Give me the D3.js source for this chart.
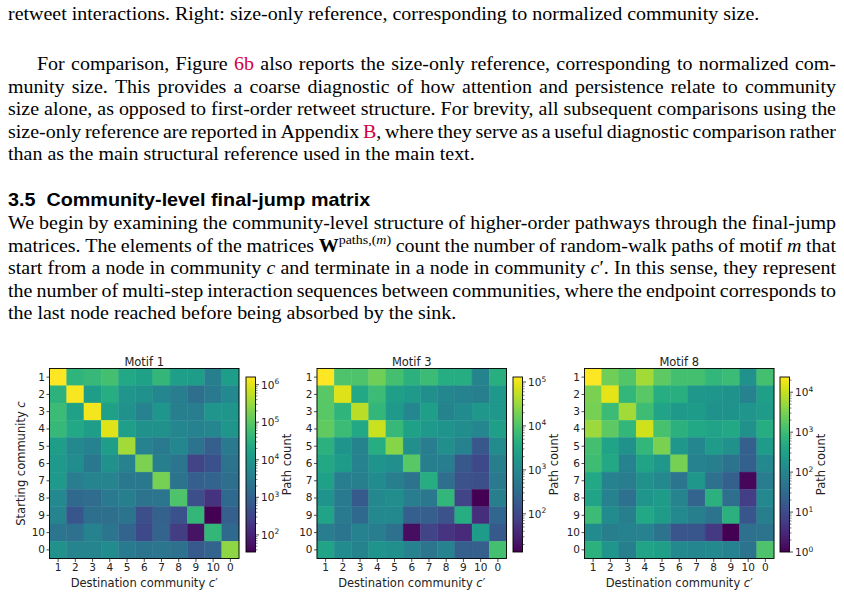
<!DOCTYPE html>
<html><head><meta charset="utf-8">
<script src="https://cdn.jsdelivr.net/npm/d3@7"></script>
<style>body{margin:0;background:#fff;} svg{display:block;}</style>
</head><body>
<svg id="page" width="844" height="616"></svg>
<script>
// ---------- data ----------
const communities = ["1","2","3","4","5","6","7","8","9","10","0"];
const motifTitles = ["Motif 1", "Motif 3", "Motif 8"];
// rows: starting community c (1..10,0); columns: destination community c' (1..10,0)
const motif1 = [
  [1.6e6, 3.75e4, 4.65e4, 6.4e4, 2.2e4, 1.6e4, 4.2e4, 1.4e4, 1.3e4, 3500, 1.3e4],
  [3.4e4, 1.45e6, 1.3e4, 2.7e4, 9300, 7500, 4900, 3200, 1700, 2800, 5400],
  [5.2e4, 1.6e4, 1.3e6, 1.6e4, 7500, 3900, 1.0e4, 3500, 3200, 9300, 9300],
  [4.65e4, 2.2e4, 1.3e4, 9.5e5, 1.4e4, 7500, 7500, 4900, 3900, 4900, 9300],
  [1.3e4, 5400, 3900, 1.3e4, 3.6e5, 3900, 2800, 4900, 2100, 870, 2800],
  [1.15e4, 6700, 2550, 7500, 3900, 1.9e5, 3500, 2300, 300, 510, 2100],
  [1.15e4, 3200, 4400, 4400, 2550, 2550, 1.7e5, 2100, 870, 1070, 1700],
  [5400, 1300, 1500, 2800, 3500, 2100, 2300, 8.0e4, 460, 170, 1300],
  [4400, 630, 1700, 1700, 2100, 460, 970, 510, 4.2e4, 35, 870],
  [2300, 1850, 3900, 2300, 1070, 370, 1070, 240, 60, 4.2e4, 1300],
  [7500, 4400, 4400, 6000, 2800, 2100, 2300, 1850, 710, 1070, 2.6e5]
];
const motif3 = [
  [1.3e5, 1.0e4, 1.0e4, 1.7e4, 8300, 4800, 6900, 4000, 4000, 830, 4350],
  [1.2e4, 8.1e4, 3300, 6900, 2280, 1900, 1310, 910, 760, 690, 1730],
  [1.2e4, 5250, 5.1e4, 5750, 1900, 910, 2280, 830, 1100, 1730, 1730],
  [1.4e4, 6900, 3300, 6.2e4, 6300, 2500, 1900, 1580, 1200, 910, 2280],
  [4800, 1580, 830, 4000, 2.5e4, 1310, 630, 1310, 760, 160, 1100],
  [3300, 2080, 760, 1580, 1310, 1.2e4, 690, 630, 160, 102, 690],
  [2500, 630, 690, 1100, 690, 440, 4000, 365, 135, 123, 575],
  [1580, 575, 175, 1000, 1200, 630, 525, 5750, 85, 13.5, 690],
  [2750, 575, 300, 1000, 1000, 210, 210, 135, 4000, 45, 275],
  [630, 480, 760, 630, 400, 18, 85, 54, 40, 2080, 175],
  [2750, 1100, 830, 1580, 1310, 760, 480, 760, 210, 210, 8300]
];
const motif8 = [
  [2.4e4, 2620, 1580, 5850, 1930, 1160, 1160, 775, 950, 155, 1160],
  [3190, 1.6e4, 775, 1740, 520, 575, 210, 190, 171, 85, 284],
  [2890, 950, 5850, 1050, 347, 233, 257, 171, 171, 190, 257],
  [5300, 1930, 775, 1.18e4, 1290, 635, 425, 347, 425, 155, 520],
  [1160, 347, 155, 775, 3190, 210, 103, 257, 155, 21, 257],
  [1050, 425, 85, 347, 210, 2890, 85, 76, 46, 21, 115],
  [425, 85, 69, 155, 115, 51, 210, 42, 21, 1.2, 69],
  [347, 85, 42, 190, 257, 93, 25, 635, 38, 6.2, 115],
  [950, 126, 76, 425, 257, 115, 76, 46, 635, 15, 76],
  [126, 76, 85, 85, 46, 14, 15, 5.6, 1, 42, 46],
  [635, 190, 76, 347, 284, 115, 103, 115, 85, 46, 1420]
];
const matrices = [motif1, motif3, motif8];
const xLabel = "Destination community ";
const yLabel = "Starting community ";
const cbLabel = "Path count";

// ---------- page text ----------
const serif = "'Liberation Serif','Times New Roman',serif";
const sansB = "'Liberation Sans',Arial,sans-serif";
const chartFont = "'DejaVu Sans',sans-serif";
const svg = d3.select("#page");
svg.append("rect").attr("width",844).attr("height",616).attr("fill","#fff");

const FS = 18, SX = 1.11;
const X0 = 8, X1 = 836;
const textLines = [
  {s:"retweet interactions. Right: size-only reference, corresponding to normalized community size.", y:20, j:false, x:X0},
  {s:"For comparison, Figure [r:6b] also reports the size-only reference, corresponding to normalized com-", y:70, j:true, x:X0+29},
  {s:"munity size.  This provides a coarse diagnostic of how attention and persistence relate to community", y:92.5, j:true, x:X0},
  {s:"size alone, as opposed to first-order retweet structure. For brevity, all subsequent comparisons using the", y:115, j:true, x:X0},
  {s:"size-only reference are reported in Appendix [r:B], where they serve as a useful diagnostic comparison rather", y:137.5, j:true, x:X0},
  {s:"than as the main structural reference used in the main text.", y:160, j:false, x:X0},
  {s:"We begin by examining the community-level structure of higher-order pathways through the final-jump", y:229, j:true, x:X0},
  {s:"matrices. The elements of the matrices [b:W][sup:paths,(][supi:m][sup:)] count the number of random-walk paths of motif [i:m] that", y:251.5, j:true, x:X0},
  {s:"start from a node in community [i:c] and terminate in a node in community [i:c]′. In this sense, they represent", y:274, j:true, x:X0},
  {s:"the number of multi-step interaction sequences between communities, where the endpoint corresponds to", y:296.5, j:true, x:X0},
  {s:"the last node reached before being absorbed by the sink.", y:319, j:false, x:X0}
];

function parseWord(w){
  const runs = []; const re = /\[(\w+):([^\]]*)\]|([^\[]+)/g; let m;
  while ((m = re.exec(w))) {
    if (m[3] !== undefined) runs.push({t:m[3], s:"n"}); else runs.push({t:m[2], s:m[1]});
  }
  return runs;
}
function makeWord(g, runs, fs){
  const t = g.append("text").attr("font-family", serif).attr("font-size", fs).attr("fill", "#000");
  let shift = 0;
  runs.forEach(r => {
    const ts = t.append("tspan").text(r.t);
    const sup = r.s === "sup" || r.s === "supi";
    const target = sup ? -fs*0.4 : 0;
    if (target !== shift) { ts.attr("dy", target - shift); shift = target; }
    if (sup) ts.attr("font-size", fs*0.7);
    if (r.s === "i" || r.s === "supi") ts.attr("font-style", "italic");
    if (r.s === "b") ts.attr("font-weight", "bold");
    if (r.s === "r") ts.attr("fill", "#d1003f");
  });
  return t;
}
textLines.forEach(L => {
  const g = svg.append("g").attr("transform", `translate(0,${L.y})`);
  const words = L.s.split(/ +/).filter(Boolean);
  const nodes = words.map(w => makeWord(g, parseWord(w), FS));
  const widths = nodes.map(n => n.node().getComputedTextLength() * SX);
  const total = d3.sum(widths);
  const gap = L.j ? (X1 - L.x - total) / (words.length - 1) : FS*0.25*SX;
  let x = L.x;
  nodes.forEach((n, i) => { n.attr("transform", `translate(${x},0) scale(${SX},1)`); x += widths[i] + gap; });
});
svg.append("text").attr("transform", `translate(${X0},206) scale(${SX},1)`).attr("font-family", sansB).attr("font-weight", "bold")
  .attr("font-size", 17.8).attr("fill", "#000").attr("xml:space","preserve").text("3.5  Community-level final-jump matrix");

// ---------- heatmaps ----------
const panelLeft = [49.5, 317, 584.5];
const panelTop = 368.5, panelW = 189.5, panelH = 190;
const cbLeft = [246, 513, 780], cbW = 9.5, cbTop = 377, cbBot = 552;

const defs = svg.append("defs");
const grad = defs.append("linearGradient").attr("id","viridis").attr("x1",0).attr("y1",1).attr("x2",0).attr("y2",0);
d3.range(0, 1.0001, 0.02).forEach(t => grad.append("stop").attr("offset", t).attr("stop-color", d3.interpolateViridis(t)));

function sup(sel, base, exp){
  sel.append("tspan").text(base);
  sel.append("tspan").attr("dy", -4.5).attr("font-size", 7.5).text(exp);
}

matrices.forEach((M, k) => {
  const g = svg.append("g").attr("font-family", chartFont);
  const x = d3.scaleBand().domain(communities).range([panelLeft[k], panelLeft[k] + panelW]);
  const y = d3.scaleBand().domain(communities).range([panelTop, panelTop + panelH]);
  const ext = d3.extent(M.flat());
  const color = d3.scaleSequentialLog(d3.interpolateViridis).domain(ext);

  const cells = [];
  M.forEach((row, i) => row.forEach((v, j) => cells.push({r: communities[i], c: communities[j], v})));
  g.append("g").selectAll("rect").data(cells).join("rect")
    .attr("x", d => x(d.c)).attr("y", d => y(d.r))
    .attr("width", x.bandwidth()).attr("height", y.bandwidth())
    .attr("fill", d => color(d.v)).attr("stroke", d => color(d.v)).attr("stroke-width", 0.4);
  g.append("rect").attr("x", panelLeft[k]).attr("y", panelTop).attr("width", panelW).attr("height", panelH)
    .attr("fill", "none").attr("stroke", "#000").attr("stroke-width", 0.9);

  const xa = g.append("g").attr("transform", `translate(0,${panelTop + panelH})`)
    .call(d3.axisBottom(x).tickSize(3.5).tickPadding(2));
  const ya = g.append("g").attr("transform", `translate(${panelLeft[k]},0)`)
    .call(d3.axisLeft(y).tickSize(3).tickPadding(1.5));
  [xa, ya].forEach(a => {
    a.select(".domain").remove();
    a.selectAll("text").attr("font-size", 10.5).attr("font-family", chartFont).attr("fill", "#222");
    a.selectAll("line").attr("stroke", "#222").attr("stroke-width", 0.8);
  });

  g.append("text").attr("x", panelLeft[k] + panelW/2).attr("y", panelTop - 3).attr("text-anchor", "middle")
    .attr("font-size", 11.5).attr("fill", "#222").text(motifTitles[k]);
  const xl = g.append("text").attr("x", panelLeft[k] + panelW/2).attr("y", 586.5).attr("text-anchor", "middle")
    .attr("font-size", 11.5).attr("fill", "#222");
  xl.append("tspan").text(xLabel); xl.append("tspan").attr("font-style", "italic").text("c");
  xl.append("tspan").text("′");
  if (k === 0) {
    const yl = g.append("text").attr("transform", `translate(25,${panelTop + panelH/2}) rotate(-90)`)
      .attr("text-anchor", "middle").attr("font-size", 11.5).attr("fill", "#222");
    yl.append("tspan").text(yLabel); yl.append("tspan").attr("font-style", "italic").text("c");
  }

  // colorbar
  const cs = d3.scaleLog().domain(ext).range([cbBot, cbTop]);
  g.append("rect").attr("x", cbLeft[k]).attr("y", cbTop).attr("width", cbW).attr("height", cbBot - cbTop)
    .attr("fill", "url(#viridis)").attr("stroke", "#000").attr("stroke-width", 0.9);
  const lo = Math.floor(Math.log10(ext[0])), hi = Math.ceil(Math.log10(ext[1]));
  const majors = d3.range(lo, hi + 1).map(e => Math.pow(10, e)).filter(v => v >= ext[0]*0.999 && v <= ext[1]*1.001);
  const minors = [];
  d3.range(lo, hi + 1).forEach(e => d3.range(2, 10).forEach(m => { const v = m*Math.pow(10, e); if (v > ext[0] && v < ext[1]) minors.push(v); }));
  const cx = cbLeft[k] + cbW;
  g.append("g").selectAll("line").data(minors).join("line")
    .attr("x1", cx).attr("x2", cx + 2).attr("y1", d => cs(d)).attr("y2", d => cs(d))
    .attr("stroke", "#222").attr("stroke-width", 0.6);
  g.append("g").selectAll("line").data(majors).join("line")
    .attr("x1", cx).attr("x2", cx + 3.5).attr("y1", d => cs(d)).attr("y2", d => cs(d))
    .attr("stroke", "#222").attr("stroke-width", 0.8);
  g.append("g").selectAll("text").data(majors).join("text")
    .attr("x", cx + 5.5).attr("y", d => cs(d) + 4).attr("font-size", 10.5).attr("fill", "#222")
    .each(function(d){ sup(d3.select(this), "10", String(Math.round(Math.log10(d)))); });
  g.append("text").attr("transform", `translate(${cx + 35.5},${(cbTop + cbBot)/2}) rotate(-90)`)
    .attr("text-anchor", "middle").attr("font-size", 11.5).attr("fill", "#222").text(cbLabel);
});
</script>
</body></html>
